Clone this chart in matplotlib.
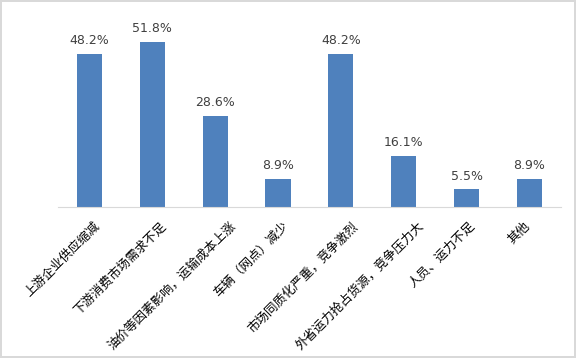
import matplotlib.pyplot as plt
import numpy as np

categories = ["上游企业供应缩减", "下游消费市场需求不足", "油价等因素影响，运输成本上涨",
              "车辆（网点）减少", "市场同质化严重，竞争激烈", "外省运力抢占货源，竞争压力大",
              "人员、运力不足", "其他"]
values = [48.2, 51.8, 28.6, 8.9, 48.2, 16.1, 5.5, 8.9]


def main():
    plt.rcParams['font.family'] = ['Noto Sans CJK SC', 'DejaVu Sans']
    fig = plt.figure(figsize=(5.76, 3.58), dpi=100)
    fig.patch.set_edgecolor('#d9d9d9')
    fig.patch.set_linewidth(1.5)
    ax = fig.add_axes([0.1007, 0.4218, 0.873, 0.5335])

    x = np.arange(len(categories))
    bars = ax.bar(x, values, width=0.4, color='#4f81bd')
    for b, v in zip(bars, values):
        ax.annotate(f"{v}%", (b.get_x() + b.get_width() / 2, v),
                    xytext=(0, 5), textcoords='offset points',
                    ha='center', va='bottom', fontsize=9, color='#404040',
                    family='DejaVu Sans')

    # category labels, rotated; longer ones sit further right (like excel)
    for i, c in enumerate(categories):
        dx = (1.7 * (len(c) - 2) - 6.5) * 0.72
        ax.annotate(c, (i, 0), xytext=(dx, -9), textcoords='offset points',
                    rotation=45, ha='right', va='top', rotation_mode='anchor',
                    fontsize=9, color='black', annotation_clip=False)

    ax.set_xlim(-0.5, len(categories) - 0.5)
    ax.set_ylim(0, 60)
    ax.set_yticks([])
    ax.set_xticks([])
    for s in ['top', 'right', 'left']:
        ax.spines[s].set_visible(False)
    ax.spines['bottom'].set_color('#d9d9d9')

    fig.savefig('out.png', dpi=100, edgecolor=fig.get_edgecolor())


if __name__ == '__main__':
    main()
